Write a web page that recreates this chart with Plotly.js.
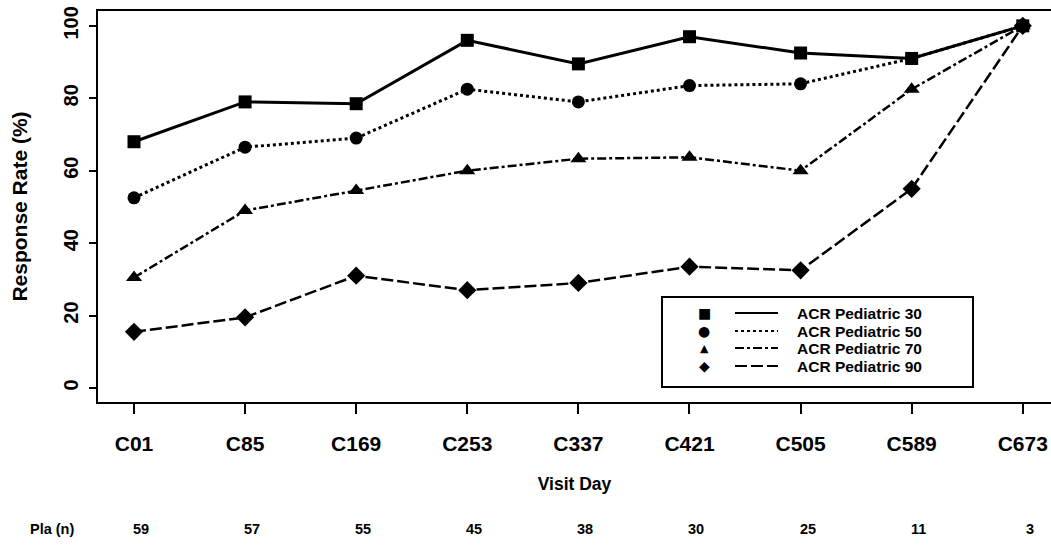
<!DOCTYPE html>
<html><head><meta charset="utf-8">
<script src="https://cdn.plot.ly/plotly-3.0.1.min.js"></script>
<style>html,body{margin:0;padding:0;background:#fff}#chart{width:1051px;height:546px}</style>
</head><body><div id="chart"></div>
<script>
var visitDays = ["C01","C85","C169","C253","C337","C421","C505","C589","C673"];
var patientsN = [59,57,55,45,38,30,25,11,3];
var acr30 = [68,79,78.5,96,89.5,97,92.5,91,100];
var acr50 = [52.5,66.5,69,82.5,79,83.5,84,91,100];
var acr70 = [30.5,49,54.5,60,63.3,63.7,60,82.5,100];
var acr90 = [15.5,19.5,31,27,29,33.5,32.5,55,100];
var seriesNames = ["ACR Pediatric 30","ACR Pediatric 50","ACR Pediatric 70","ACR Pediatric 90"];

var idx = visitDays.map(function(_, i){ return i; });
var styles = [
  {dash:"solid", sym:"square", size:13, w:3},
  {dash:"dot", sym:"circle", size:13, w:3},
  {dash:"dashdot", sym:"triangle-up", size:14, w:2.5},
  {dash:"12px,4px", sym:"diamond", size:14, w:2.5}
];
var allSeries = [acr30, acr50, acr70, acr90];
var traces = [];
for (var s = allSeries.length - 1; s >= 0; s--) {
  traces.push({
    x: idx, y: allSeries[s], name: seriesNames[s], type: "scatter", mode: "lines+markers",
    line: {color: "#000", width: styles[s].w, dash: styles[s].dash},
    marker: {symbol: styles[s].sym, size: styles[s].size, color: "#000"},
    showlegend: false
  });
}

var F = "Liberation Sans, Arial, sans-serif";
var B = "bold";
var annotations = [];
annotations.push({xref:"paper", yref:"paper", x:-0.048, y:-0.325, xanchor:"center", yanchor:"middle",
  text:"Pla (n)", showarrow:false, font:{family:F, size:14.5, color:"#000", weight:B}});
patientsN.forEach(function(n, i){
  annotations.push({xref:"x", yref:"paper", x:i, y:-0.325, xanchor:"center", yanchor:"middle", xshift:7,
    text:String(n), showarrow:false, font:{family:F, size:14.5, color:"#000", weight:B}});
});

function px2x(p){ return (p - 98) / 953; }
function py2y(p){ return (402 - p) / 391; }
var shapes = [];
shapes.push({type:"rect", xref:"paper", yref:"paper", x0:px2x(662), x1:px2x(973), y0:py2y(387), y1:py2y(297),
  line:{color:"#000", width:2}, fillcolor:"#fff", layer:"above"});
var glyphs = ["\u25A0","\u25CF","\u25B2","\u25C6"];
var rowY = [313, 331, 348, 366];
seriesNames.forEach(function(nm, k){
  shapes.push({type:"line", xref:"paper", yref:"paper", x0:px2x(735), x1:px2x(778), y0:py2y(rowY[k]), y1:py2y(rowY[k]),
    line:{color:"#000", width:2, dash:styles[k].dash}, layer:"above"});
  annotations.push({xref:"paper", yref:"paper", x:px2x(704), y:py2y(rowY[k]), xanchor:"center", yanchor:"middle",
    text:glyphs[k], showarrow:false, font:{family:"DejaVu Sans", size:k===2?11:14, color:"#000"}});
  annotations.push({xref:"paper", yref:"paper", x:px2x(795), y:py2y(rowY[k]), xanchor:"left", yanchor:"middle",
    text:nm, showarrow:false, font:{family:F, size:15.5, color:"#000", weight:B}});
});

var layout = {
  width:1051, height:546,
  margin:{l:98, r:0, t:11, b:144},
  paper_bgcolor:"#fff", plot_bgcolor:"#fff",
  font:{family:F, color:"#000"},
  xaxis:{
    range:[-0.324, 8.254], tickvals:idx, ticktext:visitDays,
    showline:true, linecolor:"#000", linewidth:2, mirror:true,
    ticks:"outside", ticklen:10, tickwidth:2, tickcolor:"#000",
    showgrid:false, zeroline:false, ticklabelstandoff:12,
    tickfont:{family:F, size:21, color:"#000", weight:B},
    title:{text:"Visit Day", standoff:24, font:{family:F, size:17.5, color:"#000", weight:B}},
    automargin:false
  },
  yaxis:{
    range:[-3.87, 104.1], tickvals:[0,20,40,60,80,100],
    showline:true, linecolor:"#000", linewidth:2, mirror:false,
    ticks:"outside", ticklen:7, tickwidth:2, tickcolor:"#000",
    showgrid:false, zeroline:false, tickangle:-90, ticklabelstandoff:3,
    tickfont:{family:F, size:20, color:"#000", weight:B},
    title:{text:"Response Rate (%)", standoff:27, font:{family:F, size:21, color:"#000", weight:B}},
    automargin:false
  },
  shapes:shapes, annotations:annotations, showlegend:false
};
Plotly.newPlot("chart", traces, layout, {displayModeBar:false, staticPlot:true});
</script></body></html>
